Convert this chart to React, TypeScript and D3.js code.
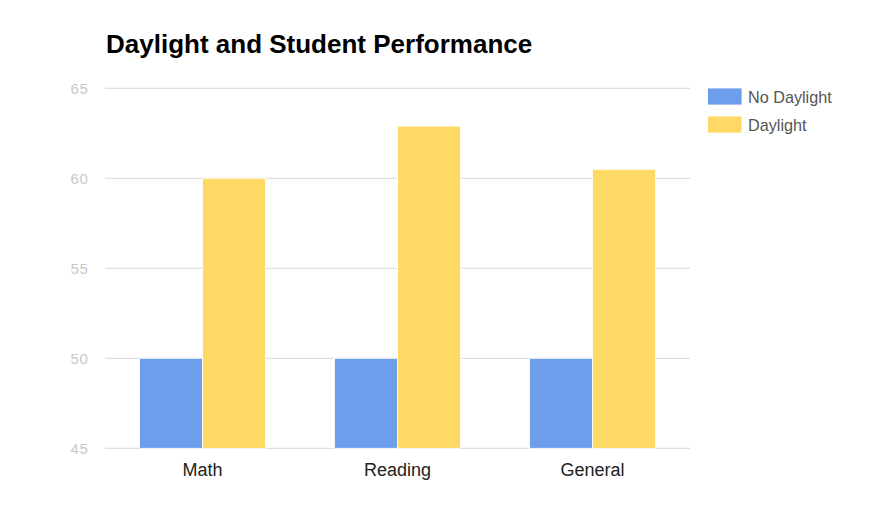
import React from "react";
import * as d3 from "d3";

const categories = ["Math", "Reading", "General"];
const seriesNames = ["No Daylight", "Daylight"];
const noDaylight = [50, 50, 50];
const daylight = [60, 62.9, 60.5];
const yTicks = [45, 50, 55, 60, 65];
const colors = ["#6d9eeb", "#ffd966"];

export default function App() {
  const W = 894, H = 516;
  const left = 105, right = 690, top = 88.3, bottom = 448.3;
  const x = d3.scaleBand<string>().domain(categories).range([left, right]).paddingInner(0.354).paddingOuter(0.177);
  const xs = d3.scaleBand<string>().domain(seriesNames).range([0, x.bandwidth()]);
  const y = d3.scaleLinear().domain([45, 65]).range([bottom, top]);
  const values = [noDaylight, daylight];
  const font = "Arial, 'Liberation Sans', sans-serif";
  return (
    <svg width={W} height={H} style={{ position: "absolute", left: 0, top: 0, background: "#fff" }} fontFamily={font}>
      <text x={106} y={52.5} fontSize={26} fontWeight="bold" fill="#000">Daylight and Student Performance</text>
      {yTicks.map((t) => (
        <g key={t}>
          <line x1={left} x2={right} y1={y(t)} y2={y(t)} stroke="#e0e0e0" strokeWidth={1.2} />
          <text x={88.5} y={y(t)} dy="0.35em" textAnchor="end" fontSize={15} letterSpacing={0.6} fill="#c8c8c8">{t}</text>
        </g>
      ))}
      {categories.map((c, i) => (
        <g key={c}>
          {seriesNames.map((s, j) => (
            <rect key={s} x={(x(c) as number) + (xs(s) as number)} y={y(values[j][i])} width={xs.bandwidth()}
              height={y(45) - y(values[j][i])} fill={colors[j]} stroke="#fff" strokeWidth={0.8} />
          ))}
          <text x={(x(c) as number) + x.bandwidth() / 2} y={475.8} textAnchor="middle" fontSize={18} fill="#222">{c}</text>
        </g>
      ))}
      {seriesNames.map((s, j) => (
        <g key={s}>
          <rect x={707.5} y={88 + j * 28} width={34.5} height={17} fill={colors[j]} stroke="#fff" strokeWidth={0.8} />
          <text x={748} y={102.5 + j * 28} fontSize={16.2} fill="#555">{s}</text>
        </g>
      ))}
    </svg>
  );
}
